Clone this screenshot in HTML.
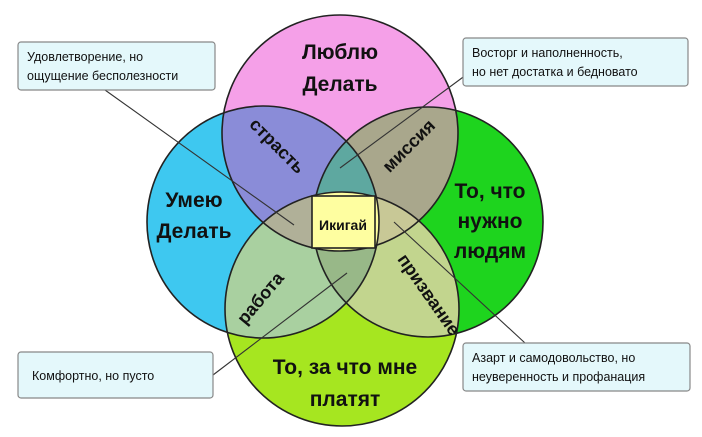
<!DOCTYPE html>
<html><head><meta charset="utf-8"><style>
body{margin:0;background:#fff;width:702px;height:437px;overflow:hidden}
svg{display:block}
text{font-family:"Liberation Sans","DejaVu Sans",sans-serif;fill:#111}
.b{font-weight:bold;font-size:21px}
.m{font-weight:bold;font-size:18px}
.s{font-size:12.5px}
</style></head><body>
<svg width="702" height="437" viewBox="0 0 702 437">
<defs>
<clipPath id="P"><circle cx="340" cy="133" r="118"/></clipPath>
<clipPath id="L"><circle cx="263" cy="222" r="116"/></clipPath>
<clipPath id="R"><circle cx="428" cy="222" r="115"/></clipPath>
<clipPath id="B"><circle cx="342" cy="309" r="117"/></clipPath>
</defs>
<circle cx="263" cy="222" r="116" fill="#3ec8f0"/>
<circle cx="428" cy="222" r="115" fill="#1ed41e"/>
<circle cx="340" cy="133" r="118" fill="#f5a0e8"/>
<circle cx="342" cy="309" r="117" fill="#a6e620"/>
<g clip-path="url(#P)"><rect width="702" height="437" fill="#8a8cd8" clip-path="url(#L)"/></g>
<g clip-path="url(#P)"><rect width="702" height="437" fill="#a9a78c" clip-path="url(#R)"/></g>
<g clip-path="url(#B)"><rect width="702" height="437" fill="#a9d0a0" clip-path="url(#L)"/></g>
<g clip-path="url(#B)"><rect width="702" height="437" fill="#c2d58e" clip-path="url(#R)"/></g>
<g clip-path="url(#P)"><g clip-path="url(#L)"><rect width="702" height="437" fill="#5ea8a0" clip-path="url(#R)"/></g></g>
<g clip-path="url(#P)"><g clip-path="url(#L)"><rect width="702" height="437" fill="#b0b098" clip-path="url(#B)"/></g></g>
<g clip-path="url(#P)"><g clip-path="url(#R)"><rect width="702" height="437" fill="#c8c896" clip-path="url(#B)"/></g></g>
<g clip-path="url(#B)"><g clip-path="url(#L)"><rect width="702" height="437" fill="#98b888" clip-path="url(#R)"/></g></g>
<g clip-path="url(#P)"><g clip-path="url(#L)"><g clip-path="url(#R)"><rect width="702" height="437" fill="#fefea0" clip-path="url(#B)"/></g></g></g>
<g fill="none" stroke="#222" stroke-width="1.6">
<circle cx="263" cy="222" r="116"/><circle cx="428" cy="222" r="115"/>
<circle cx="340" cy="133" r="118"/><circle cx="342" cy="309" r="117"/>
</g>
<g stroke="#333" stroke-width="1.1">
<line x1="105" y1="90" x2="294" y2="225"/>
<line x1="470" y1="72" x2="340" y2="168"/>
<line x1="213" y1="375" x2="347" y2="273"/>
<line x1="525" y1="343" x2="394" y2="222"/>
</g>
<g fill="#e4f8fb" stroke="#888" stroke-width="1.2">
<rect x="18" y="42" width="197" height="48" rx="3"/>
<rect x="463" y="38" width="225" height="48" rx="3"/>
<rect x="18" y="352" width="195" height="46" rx="3"/>
<rect x="463" y="343" width="227" height="48" rx="3"/>
</g>
<text class="s" x="27" y="61">Удовлетворение, но</text>
<text class="s" x="27" y="80">ощущение бесполезности</text>
<text class="s" x="472" y="57">Восторг и наполненность,</text>
<text class="s" x="472" y="76">но нет достатка и бедновато</text>
<text class="s" x="32" y="380">Комфортно, но пусто</text>
<text class="s" x="472" y="362">Азарт и самодовольство, но</text>
<text class="s" x="472" y="381">неуверенность и профанация</text>
<g class="b" text-anchor="middle">
<text x="340" y="59">Люблю</text><text x="340" y="91">Делать</text>
<text x="194" y="207">Умею</text><text x="194" y="238">Делать</text>
<text x="490" y="198">То, что</text><text x="490" y="228">нужно</text><text x="490" y="258">людям</text>
<text x="345" y="374">То, за что мне</text><text x="345" y="406">платят</text>
</g>
<g class="m" text-anchor="middle">
<text transform="translate(273,150) rotate(45)">страсть</text>
<text transform="translate(413,150) rotate(-45)">миссия</text>
<text transform="translate(265,302) rotate(-50)">работа</text>
<text transform="translate(424,298) rotate(55)">призвание</text>
</g>
<rect x="312" y="196" width="63" height="52" fill="#fefea0" stroke="#222" stroke-width="1.6"/>
<text x="343" y="230" text-anchor="middle" style="font-weight:bold;font-size:14px">Икигай</text>
</svg>
</body></html>
